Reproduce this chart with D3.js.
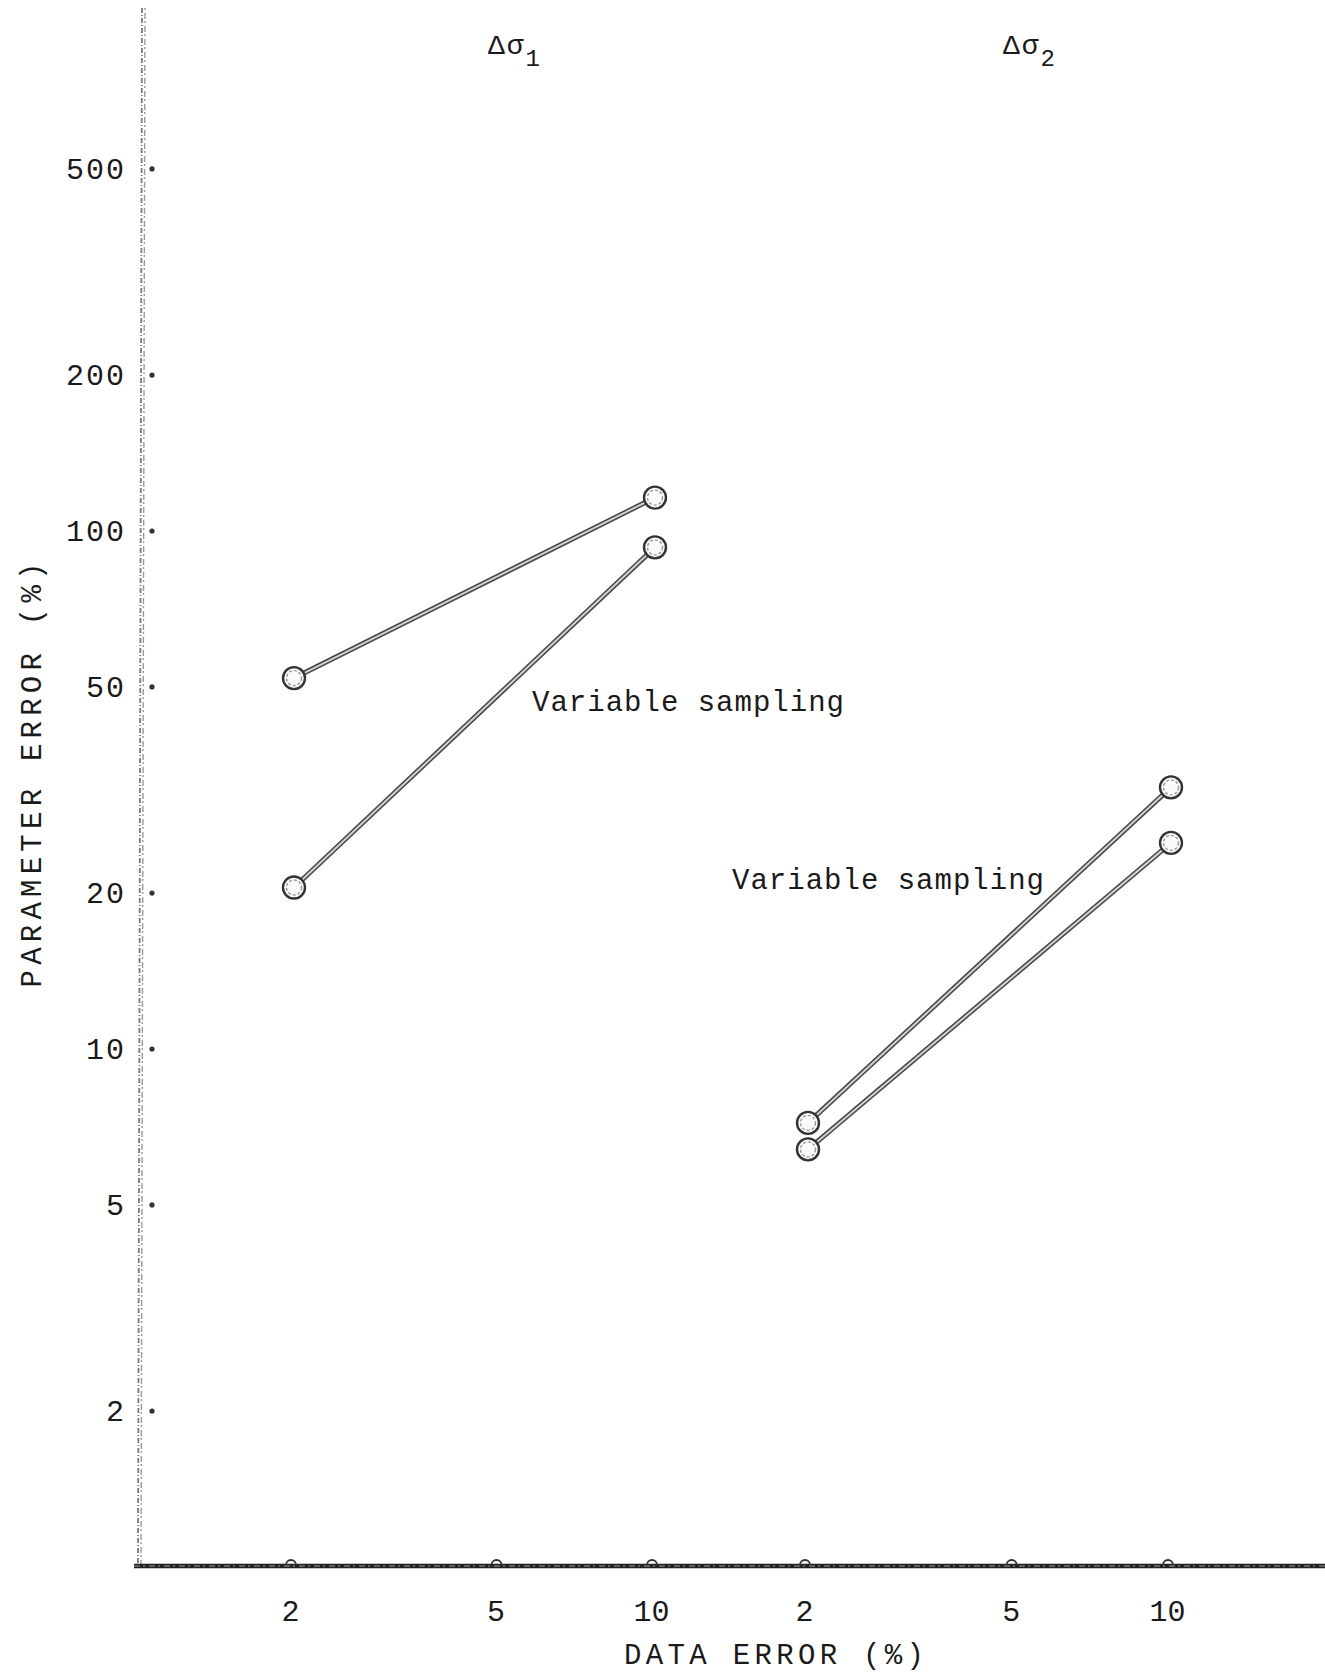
<!DOCTYPE html>
<html>
<head>
<meta charset="utf-8">
<script src="https://cdn.jsdelivr.net/npm/d3@7"></script>
<style>
  html, body { margin: 0; padding: 0; background: #fff; }
  svg { display: block; }
  text { font-family: "Liberation Mono", "DejaVu Sans Mono", monospace; fill: #1a1a1a; }
</style>
</head>
<body>
<svg id="chart" width="1325" height="1675"></svg>
<script>
// ---- data ----
const panelNames = ["1", "2"];                 // Δσ subscripts
const dataErrors = [2, 10];                    // DATA ERROR (%) of each point
const panel1Upper = [52, 116];                 // PARAMETER ERROR (%)
const panel1Lower = [20.5, 93];
const panel2Upper = [7.2, 32];
const panel2Lower = [6.4, 25];
const xTickValues = [2, 5, 10];
const yTickValues = [2, 5, 10, 20, 50, 100, 200, 500];
const annotations = ["Variable sampling", "Variable sampling"];

const series = [
  { panel: 0, values: panel1Upper },
  { panel: 0, values: panel1Lower },
  { panel: 1, values: panel2Upper },
  { panel: 1, values: panel2Lower }
];

// ---- layout ----
const svg = d3.select("#chart");
const axisX = 142, axisY = 1566;

const y = d3.scaleLog().domain([1, 1000]).range([1567, 13]);
const xPanels = [
  d3.scaleLog().domain([2, 10]).range([294, 655]),
  d3.scaleLog().domain([2, 10]).range([808, 1171])
];

// y axis: faint dotted double vertical line
[[0, "#7a7a7a", 1.8, "5,2,1,2"], [3, "#9a9a9a", 1.4, "2,3,6,2"]].forEach(([dx, c, w, da]) => {
  svg.append("line")
    .attr("x1", axisX + dx).attr("x2", axisX + dx - 4)
    .attr("y1", 8).attr("y2", axisY)
    .attr("stroke", c).attr("stroke-width", w)
    .attr("stroke-dasharray", da);
});

// y axis labels via d3 axis
const yAxis = d3.axisLeft(y).tickValues(yTickValues)
  .tickFormat(d3.format("d")).tickSize(0).tickPadding(0);
const gy = svg.append("g").attr("transform", `translate(126,0)`).call(yAxis);
gy.select(".domain").remove();
gy.selectAll("text")
  .style("font-family", '"Liberation Mono", monospace')
  .style("font-size", "30px").attr("fill", "#1a1a1a")
  .attr("letter-spacing", "2px");
// y tick dots
svg.selectAll(".ytickdot").data(yTickValues).enter().append("circle")
  .attr("cx", axisX + 10).attr("cy", d => y(d)).attr("r", 2.6)
  .attr("fill", "#333");

// x axis: heavy line
svg.append("line")
  .attr("x1", axisX - 8).attr("x2", 1325)
  .attr("y1", axisY).attr("y2", axisY)
  .attr("stroke", "#222").attr("stroke-width", 4.5);
svg.append("line")
  .attr("x1", axisX - 8).attr("x2", 1325)
  .attr("y1", axisY).attr("y2", axisY)
  .attr("stroke", "#bbb").attr("stroke-width", 0.8)
  .attr("stroke-dasharray", "6,3,2,4");

xPanels.forEach(xs => {
  const xAxis = d3.axisBottom(xs).tickValues(xTickValues)
    .tickFormat(d3.format("d")).tickSize(0).tickPadding(0);
  const gx = svg.append("g").attr("transform", `translate(-4,${axisY + 34})`).call(xAxis);
  gx.select(".domain").remove();
  gx.selectAll("text")
    .style("font-family", '"Liberation Mono", monospace')
    .style("font-size", "30px").attr("fill", "#1a1a1a");
  // small loop-shaped tick marks sitting on the axis
  svg.selectAll(null).data(xTickValues).enter().append("path")
    .attr("d", d => {
      const cx = xs(d) - 3;
      return `M${cx - 5},${axisY - 1} A4.5,4.5 0 1 1 ${cx + 5},${axisY - 1}`;
    })
    .attr("fill", "none").attr("stroke", "#333").attr("stroke-width", 1.8);
});

// axis titles
svg.append("text")
  .attr("x", 774).attr("y", 1664)
  .attr("text-anchor", "middle")
  .attr("textLength", 300).attr("lengthAdjust", "spacing")
  .style("font-size", "29px")
  .text("DATA  ERROR  (%)");

svg.append("text")
  .attr("transform", "translate(41,775) rotate(-90)")
  .attr("text-anchor", "middle")
  .attr("textLength", 425).attr("lengthAdjust", "spacing")
  .style("font-size", "29px")
  .text("PARAMETER  ERROR  (%)");

// panel headings Δσ1, Δσ2
const headX = [488, 1003];
panelNames.forEach((p, i) => {
  const t = svg.append("text").attr("x", headX[i]).attr("y", 54)
    .style("font-size", "28px");
  t.append("tspan").text("Δσ").attr("letter-spacing", "2px");
  t.append("tspan").attr("dy", 12).style("font-size", "24px").text(p);
});

// data lines (hollow double-stroke look)
const line = (s) => d3.line()
  .x((d, i) => xPanels[s.panel](dataErrors[i]))
  .y(d => y(d))(s.values);

series.forEach(s => {
  svg.append("path").attr("d", line(s))
    .attr("fill", "none").attr("stroke", "#444").attr("stroke-width", 5);
  svg.append("path").attr("d", line(s))
    .attr("fill", "none").attr("stroke", "#d0d0d0").attr("stroke-width", 2);
});

// markers
series.forEach(s => {
  s.values.forEach((v, i) => {
    const cx = xPanels[s.panel](dataErrors[i]), cy = y(v);
    svg.append("circle").attr("cx", cx).attr("cy", cy).attr("r", 11)
      .attr("fill", "#fafafa").attr("stroke", "#333").attr("stroke-width", 2.4);
    svg.append("circle").attr("cx", cx).attr("cy", cy).attr("r", 7.5)
      .attr("fill", "none").attr("stroke", "#999").attr("stroke-width", 1.4)
      .attr("stroke-dasharray", "3,2");
  });
});

// annotations
const annPos = [[532, 711], [732, 889]];
annotations.forEach((a, i) => {
  svg.append("text").attr("x", annPos[i][0]).attr("y", annPos[i][1])
    .attr("textLength", 312).attr("lengthAdjust", "spacing")
    .style("font-size", "29px").text(a);
});
</script>
</body>
</html>
